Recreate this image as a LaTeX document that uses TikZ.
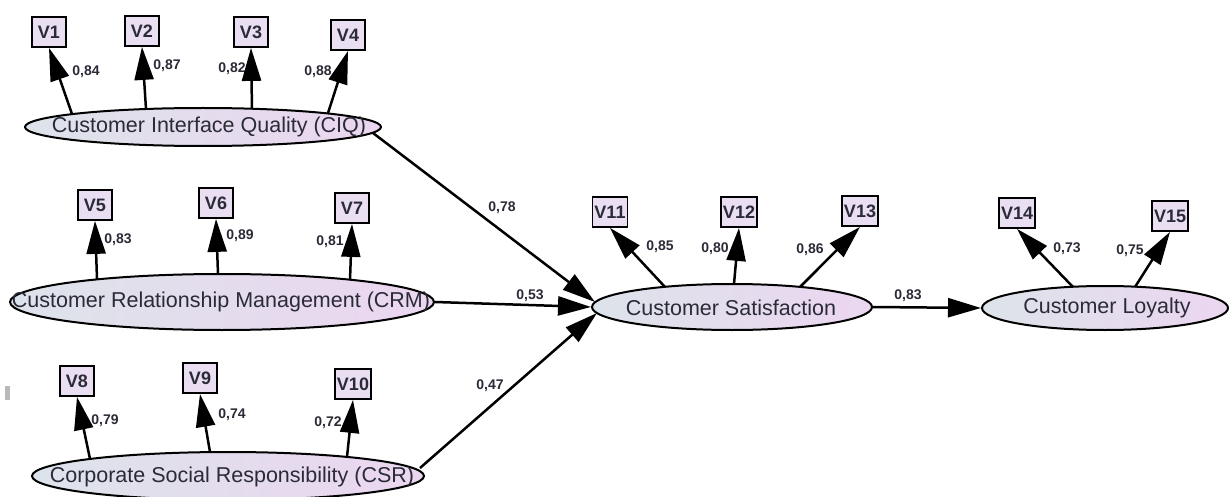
\documentclass[tikz,border=0pt]{standalone}
\usepackage{fontspec}
\setmainfont{Liberation Sans}
\usetikzlibrary{shapes.geometric,arrows.meta,calc}
\definecolor{boxfill}{HTML}{E9DEF2}
\definecolor{ellL}{HTML}{DDE3EA}
\definecolor{ellR}{HTML}{EBD6F0}
\definecolor{txt}{HTML}{2B2B38}
\tikzset{
  obs/.style={draw=black, line width=1.8pt, fill=boxfill, minimum width=34pt, minimum height=30pt, inner sep=2pt, font=\bfseries\fontsize{18}{18}\selectfont, text=txt},
  lat/.style={ellipse, draw=black, line width=2pt, left color=ellL, right color=ellR, inner sep=0pt},
  lattext/.style={inner sep=0pt, font=\fontsize{21.5}{22}\selectfont, text=txt},
  arr/.style={line width=2.5pt, -{Triangle[length=33pt,width=19pt]}},
  lab/.style={font=\bfseries\fontsize{14}{14}\selectfont, text=txt, inner sep=0pt}
}
\begin{document}
\begin{tikzpicture}[x=1pt,y=-1pt]
\useasboundingbox (0,0) rectangle (1231,497);
\fill[white] (0,0) rectangle (1231,497);
\fill[gray!55] (5,386) rectangle (10,400);

% latent variables
\node[lat, minimum width=356pt, minimum height=38pt] (CIQ) at (203,127) {};
\node[lattext] (CIQt) at (209,127) {Customer Interface Quality (CIQ)};
\node[lat, minimum width=424pt, minimum height=56pt] (CRM) at (222,302) {};
\node[lattext] (CRMt) at (221,302) {Customer Relationship Management (CRM)};
\node[lat, minimum width=392pt, minimum height=48pt] (CSR) at (228,476) {};
\node[lattext] (CSRt) at (232,477) {Corporate Social Responsibility (CSR)};
\node[lat, minimum width=280pt, minimum height=46pt] (CS) at (732,307) {};
\node[lattext] (CSt) at (731,308) {Customer Satisfaction};
\node[lat, minimum width=246pt, minimum height=44pt] (CL) at (1105,308) {};
\node[lattext] (CLt) at (1107,308) {Customer Loyalty};

% observed variables
\node[obs] (V1) at (49,32) {V1};
\node[obs] (V2) at (142,31) {V2};
\node[obs] (V3) at (251,32) {V3};
\node[obs] (V4) at (348,35) {V4};
\node[obs] (V5) at (95,205) {V5};
\node[obs] (V6) at (216,203) {V6};
\node[obs] (V7) at (352,208) {V7};
\node[obs] (V8) at (77,381) {V8};
\node[obs] (V9) at (200,378) {V9};
\node[obs] (V10) at (353,384) {V10};
\node[obs] (V11) at (610,212) {V11};
\node[obs] (V12) at (739,212) {V12};
\node[obs] (V13) at (860,211) {V13};
\node[obs] (V14) at (1017,213) {V14};
\node[obs] (V15) at (1170,216) {V15};

% loading labels
\node[lab] (l1) at (86,72) {0,84};
\node[lab] (l2) at (167,66) {0,87};
\node[lab] (l3) at (232,69) {0,82};
\node[lab] (l4) at (318,72) {0,88};
\node[lab] (l5) at (118,240) {0,83};
\node[lab] (l6) at (240,236) {0,89};
\node[lab] (l7) at (330,242) {0,81};
\node[lab] (l8) at (105,421) {0,79};
\node[lab] (l9) at (232,415) {0,74};
\node[lab] (l10) at (328,423) {0,72};
\node[lab] (l11) at (660,247) {0,85};
\node[lab] (l12) at (715,249) {0,80};
\node[lab] (l13) at (810,250) {0,86};
\node[lab] (l14) at (1067,249) {0,73};
\node[lab] (l15) at (1130,251) {0,75};
\node[lab] (p1) at (502,208) {0,78};
\node[lab] (p2) at (530,296) {0,53};
\node[lab] (p3) at (490,386) {0,47};
\node[lab] (p4) at (908,296) {0,83};

% loadings
\draw[arr] ($(CIQ.center)+(-131,-13)$) -- (V1.south);
\draw[arr] ($(CIQ.center)+(-57,-18)$) -- (V2.south);
\draw[arr] ($(CIQ.center)+(49,-18)$) -- (V3.south);
\draw[arr] ($(CIQ.center)+(125,-14)$) -- (V4.south);
\draw[arr] ($(CRM.center)+(-125,-23)$) -- (V5.south);
\draw[arr] ($(CRM.center)+(-4,-28)$) -- (V6.south);
\draw[arr] ($(CRM.center)+(128,-22)$) -- (V7.south);
\draw[arr] ($(CSR.center)+(-138,-17)$) -- (V8.south);
\draw[arr] ($(CSR.center)+(-18,-24)$) -- (V9.south);
\draw[arr] ($(CSR.center)+(119,-19)$) -- (V10.south);
\draw[arr] ($(CS.center)+(-67,-20)$) -- (V11.south);
\draw[arr] ($(CS.center)+(2,-23)$) -- (V12.south);
\draw[arr] ($(CS.center)+(68,-20)$) -- (V13.south);
\draw[arr] ($(CL.center)+(-32,-21)$) -- (V14.south);
\draw[arr] ($(CL.center)+(30,-21)$) -- (V15.south);

% structural paths
\draw[arr] ($(CIQ.center)+(170,6)$) -- ($(CS.center)+(-137,-5)$);
\draw[arr] (CRM.east) -- (CS.west);
\draw[arr] ($(CSR.center)+(192,-8)$) -- ($(CS.center)+(-135,6)$);
\draw[arr] (CS.east) -- (CL.west);
\end{tikzpicture}
\end{document}
